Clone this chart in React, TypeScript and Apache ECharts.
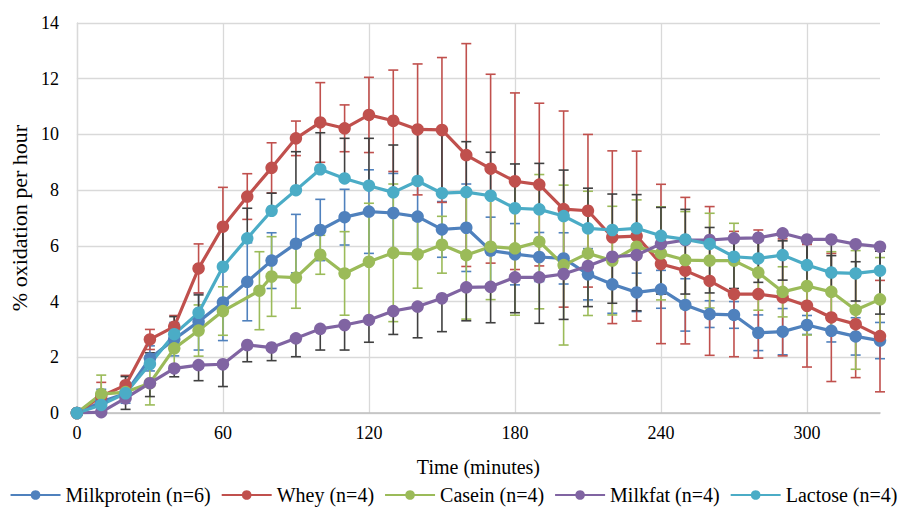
import React, { useEffect, useRef } from "react";
import * as echarts from "echarts";

const times = [0, 10, 20, 30, 40, 50, 60, 70, 80, 90, 100, 110, 120, 130, 140, 150, 160, 170, 180, 190, 200, 210, 220, 230, 240, 250, 260, 270, 280, 290, 300, 310, 320, 330];
const caseinTimes = [0, 10, 20, 30, 40, 50, 60, 75, 80, 90, 100, 110, 120, 130, 140, 150, 160, 170, 180, 190, 200, 210, 220, 230, 240, 250, 260, 270, 280, 290, 300, 310, 320, 330];

const milkprotein = [0, 0.4, 0.7, 1.96, 2.65, 3.28, 3.97, 4.71, 5.47, 6.08, 6.57, 7.03, 7.23, 7.18, 7.05, 6.59, 6.65, 5.83, 5.7, 5.6, 5.55, 4.98, 4.62, 4.33, 4.44, 3.88, 3.55, 3.52, 2.88, 2.92, 3.16, 2.95, 2.75, 2.6];
const milkproteinErr = [0, 0.45, 0.35, 0.45, 0.6, 1.02, 1.37, 1.4, 1.0, 1.05, 1.1, 1.0, 1.5, 1.42, 1.25, 1.0, 1.57, 1.2, 1.1, 0.88, 0.92, 0.92, 1.04, 0.69, 0.68, 0.94, 0.48, 0.48, 0.64, 0.83, 0.34, 0.4, 0.67, 0.65];

const whey = [0, 0.6, 1.0, 2.64, 3.1, 5.19, 6.69, 7.77, 8.8, 9.86, 10.43, 10.22, 10.7, 10.49, 10.18, 10.16, 9.26, 8.77, 8.32, 8.2, 7.32, 7.26, 6.31, 6.35, 5.35, 5.11, 4.74, 4.27, 4.27, 4.15, 3.85, 3.43, 3.19, 2.76];
const wheyErr = [0, 0.5, 0.35, 0.36, 0.4, 0.88, 1.41, 0.82, 0.9, 0.62, 1.43, 0.84, 1.35, 1.82, 2.35, 2.6, 4.0, 3.39, 3.17, 2.92, 3.52, 2.74, 3.1, 3.05, 2.86, 2.63, 2.67, 2.25, 2.3, 2.1, 2.2, 2.3, 1.92, 2.0];

const casein = [0, 0.68, 0.75, 1.07, 2.32, 2.96, 3.66, 4.39, 4.9, 4.86, 5.68, 5.01, 5.43, 5.75, 5.7, 6.04, 5.67, 5.97, 5.91, 6.15, 5.31, 5.73, 5.47, 5.97, 5.73, 5.49, 5.47, 5.47, 5.04, 4.35, 4.56, 4.35, 3.7, 4.08];
const caseinErr = [0, 0.68, 0.3, 0.78, 0.6, 0.92, 0.87, 1.4, 1.43, 1.1, 0.7, 1.5, 2.1, 2.47, 1.22, 1.02, 2.3, 1.9, 2.4, 2.41, 2.87, 2.23, 1.95, 1.68, 1.67, 1.74, 1.7, 1.34, 1.35, 0.9, 1.76, 1.44, 2.13, 1.5];

const milkfat = [0, 0.03, 0.53, 1.07, 1.6, 1.72, 1.75, 2.44, 2.35, 2.68, 3.02, 3.16, 3.34, 3.66, 3.82, 4.12, 4.51, 4.53, 4.87, 4.87, 4.99, 5.28, 5.61, 5.67, 6.07, 6.21, 6.21, 6.27, 6.29, 6.45, 6.23, 6.23, 6.06, 5.97];
const milkfatErrMinus = [0, 0.05, 0.4, 0.48, 0.3, 0.56, 0.8, 0.6, 0.47, 0.66, 0.76, 0.9, 0.8, 0.84, 1.12, 1.2, 1.2, 1.29, 1.27, 1.65, 1.63, 1.46, 1.67, 2.0, 1.8, 1.94, 1.9, 1.8, 1.6, 1.68, 1.7, 1.8, 2.04, 2.42];

const lactose = [0, 0.29, 0.71, 1.76, 2.83, 3.6, 5.25, 6.27, 7.26, 8.0, 8.75, 8.42, 8.16, 7.92, 8.33, 7.89, 7.93, 7.8, 7.35, 7.31, 7.07, 6.63, 6.57, 6.63, 6.36, 6.23, 6.07, 5.61, 5.55, 5.67, 5.31, 5.04, 5.01, 5.11];
const lactoseErrPlus = [0, 0.3, 0.6, 0.4, 0.63, 0.64, 1.45, 1.08, 0.63, 1.38, 1.31, 1.44, 1.7, 1.7, 1.85, 2.25, 1.81, 1.56, 1.59, 1.65, 1.65, 1.44, 1.29, 1.21, 1.02, 1.08, 0.59, 0.6, 0.63, 0.51, 0.8, 0.61, 0.42, 0.7];

const xTicks = [0, 60, 120, 180, 240, 300];

const FONT = "Times New Roman, Liberation Serif, Times, DejaVu Serif, serif";

type S = { name: string; color: string; errColor: string; t: number[]; v: number[]; plus: number[]; minus: number[] };

const seriesDefs: S[] = [
  { name: "Milkprotein (n=6)", color: "#4F81BD", errColor: "#4F81BD", t: times, v: milkprotein, plus: milkproteinErr, minus: milkproteinErr },
  { name: "Whey (n=4)", color: "#C0504D", errColor: "#C0504D", t: times, v: whey, plus: wheyErr, minus: wheyErr },
  { name: "Casein (n=4)", color: "#9BBB59", errColor: "#9BBB59", t: caseinTimes, v: casein, plus: caseinErr, minus: caseinErr },
  { name: "Milkfat (n=4)", color: "#8064A2", errColor: "#404040", t: times, v: milkfat, plus: milkfat.map(() => 0), minus: milkfatErrMinus },
  { name: "Lactose (n=4)", color: "#4BACC6", errColor: "#404040", t: times, v: lactose, plus: lactoseErrPlus, minus: lactose.map(() => 0) },
];

export default function App() {
  const ref = useRef<HTMLDivElement>(null);
  useEffect(() => {
    if (!ref.current) return;
    const chart = echarts.init(ref.current, undefined, { renderer: "svg" });
    const series: any[] = [];
    seriesDefs.forEach((s) => {
      const color = s.errColor;
      series.push({
        type: "custom",
        name: s.name + " err",
        z: 1,
        silent: true,
        encode: { x: 0, y: 1 },
        data: s.t.map((t, i) => [t, s.v[i], s.plus[i], s.minus[i]]),
        renderItem: (params: any, api: any) => {
          const x = api.value(0);
          const y = api.value(1);
          const up = api.value(2);
          const dn = api.value(3);
          if (!(up > 0) && !(dn > 0)) return null;
          const top = api.coord([x, y + up]);
          const bot = api.coord([x, y - dn]);
          const style = { stroke: color, lineWidth: 1.6 };
          const cw = 5;
          const children: any[] = [
            { type: "line", shape: { x1: top[0], y1: top[1], x2: bot[0], y2: bot[1] }, style },
          ];
          if (up > 0) children.push({ type: "line", shape: { x1: top[0] - cw, y1: top[1], x2: top[0] + cw, y2: top[1] }, style });
          if (dn > 0) children.push({ type: "line", shape: { x1: bot[0] - cw, y1: bot[1], x2: bot[0] + cw, y2: bot[1] }, style });
          return { type: "group", children };
        },
      });
    });
    seriesDefs.forEach((s) => {
      series.push({
        type: "line",
        name: s.name,
        z: 3,
        data: s.t.map((t, i) => [t, s.v[i]]),
        symbol: "circle",
        symbolSize: 12.5,
        lineStyle: { color: s.color, width: 3.2 },
        itemStyle: { color: s.color },
      });
    });
    chart.setOption({
      animation: false,
      textStyle: { fontFamily: FONT },
      grid: { left: 76, right: 27, top: 23, bottom: 97, containLabel: false },
      legend: {
        bottom: 0,
        left: "center",
        data: seriesDefs.map((s) => s.name),
        itemWidth: 50,
        itemHeight: 12,
        itemGap: 10,
        textStyle: { fontFamily: FONT, fontSize: 20, color: "#000" },
      },
      xAxis: {
        type: "value",
        min: 0,
        max: 330,
        interval: 60,
        name: "Time (minutes)",
        nameLocation: "middle",
        nameGap: 44,
        nameTextStyle: { fontFamily: FONT, fontSize: 20, color: "#000" },
        axisLine: { show: true, lineStyle: { color: "#BFBFBF", width: 1.5 } },
        axisTick: { show: false },
        axisLabel: {
          fontFamily: FONT,
          fontSize: 18,
          color: "#000",
          margin: 11,
          showMaxLabel: false,
          formatter: (v: number) => (xTicks.includes(v) ? String(v) : ""),
        },
        splitLine: { show: true, showMaxLine: false, lineStyle: { color: "#D9D9D9", width: 1.3 } },
      },
      yAxis: {
        type: "value",
        min: 0,
        max: 14,
        interval: 2,
        name: "% oxidation per hour",
        nameLocation: "middle",
        nameGap: 45,
        nameTextStyle: { fontFamily: FONT, fontSize: 22, color: "#000" },
        axisLine: { show: true, lineStyle: { color: "#D9D9D9", width: 1.3 } },
        axisTick: { show: false },
        axisLabel: { fontFamily: FONT, fontSize: 18, color: "#000", margin: 18 },
        splitLine: { show: true, lineStyle: { color: "#D9D9D9", width: 1.3 } },
      },
      series,
    });
    return () => chart.dispose();
  }, []);
  return <div ref={ref} style={{ position: "absolute", left: 0, top: 0, width: 907, height: 510 }} />;
}
